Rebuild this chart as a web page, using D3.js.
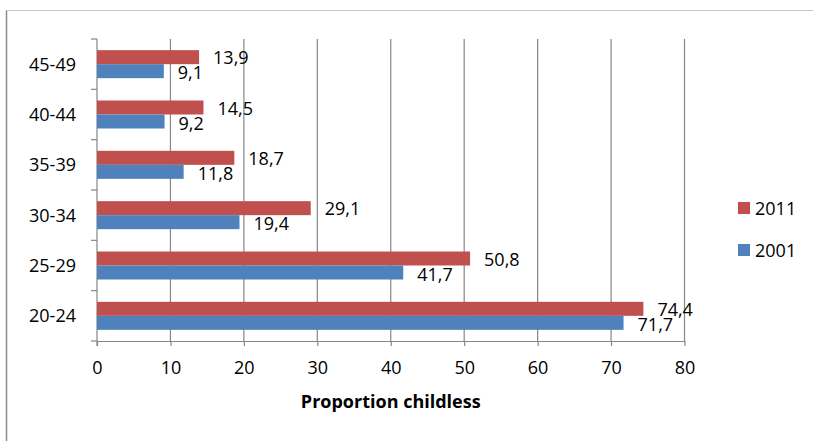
<!DOCTYPE html>
<html>
<head>
<meta charset="utf-8">
<script src="https://cdn.jsdelivr.net/npm/d3@7"></script>
<style>
  html, body { margin: 0; padding: 0; background: #fff; }
  svg { display: block; }
  text { font-family: "Open Sans", "Liberation Sans", sans-serif; fill: #000; }
</style>
</head>
<body>
<svg id="chart" width="813" height="441"></svg>
<script>
// Age groups, bottom to top
const ageGroups = ["20-24", "25-29", "30-34", "35-39", "40-44", "45-49"];
// Proportion childless (%) by year
const values2011 = [74.4, 50.8, 29.1, 18.7, 14.5, 13.9];
const values2001 = [71.7, 41.7, 19.4, 11.8, 9.2, 9.1];
const seriesNames = ["2011", "2001"];
const seriesColors = ["#C0504D", "#4F81BD"];
const xTicks = [0, 10, 20, 30, 40, 50, 60, 70, 80];
const xTitle = "Proportion childless";

const fmt = v => String(v).replace(".", ",");

const svg = d3.select("#chart");

// Outer chart frame (partially visible)
svg.append("line").attr("x1", 6.5).attr("x2", 6.5).attr("y1", 10).attr("y2", 441)
  .attr("stroke", "#8a8a8a").attr("stroke-width", 1.5);
svg.append("line").attr("x1", 6).attr("x2", 813).attr("y1", 10.5).attr("y2", 10.5)
  .attr("stroke", "#c4c4c4").attr("stroke-width", 1);

const plot = { left: 97, right: 684.5, top: 39, bottom: 341 };

const x = d3.scaleLinear().domain([0, 80]).range([plot.left, plot.right]);
// Bands go bottom-to-top: first category at the bottom
const y = d3.scaleBand().domain(ageGroups).range([plot.bottom, plot.top]).paddingInner(0).paddingOuter(0);
const barH = 14;

// Vertical gridlines
svg.append("g").selectAll("line").data(xTicks.filter(d => d > 0)).join("line")
  .attr("x1", d => x(d)).attr("x2", d => x(d))
  .attr("y1", plot.top).attr("y2", plot.bottom)
  .attr("stroke", "#868686").attr("stroke-width", 1.2);

// X axis
const xAxis = svg.append("g").attr("transform", `translate(0,${plot.bottom})`)
  .call(d3.axisBottom(x).tickValues(xTicks).tickSize(5).tickPadding(8).tickSizeOuter(0));
xAxis.select(".domain").attr("stroke", "#868686").attr("stroke-width", 1.2);
xAxis.selectAll(".tick line").attr("stroke", "#868686").attr("stroke-width", 1.2);
xAxis.selectAll(".tick text").attr("font-size", 18).attr("font-family", "Open Sans")
  .attr("dy", null).attr("y", 33);

// Y axis: ticks at band boundaries, labels centred in bands
const yAxisG = svg.append("g");
yAxisG.append("line").attr("x1", plot.left).attr("x2", plot.left)
  .attr("y1", plot.top).attr("y2", plot.bottom + 5)
  .attr("stroke", "#868686").attr("stroke-width", 1.2);
const boundaries = ageGroups.map(g => y(g)).concat([plot.bottom]);
yAxisG.selectAll("line.tk").data(boundaries).join("line").attr("class", "tk")
  .attr("x1", plot.left - 6).attr("x2", plot.left)
  .attr("y1", d => d).attr("y2", d => d)
  .attr("stroke", "#868686").attr("stroke-width", 1.2);
yAxisG.selectAll("text").data(ageGroups).join("text")
  .attr("x", 76).attr("y", d => y(d) + y.bandwidth() / 2 + 6.5)
  .attr("text-anchor", "end").attr("font-size", 18)
  .text(d => d);

// Bars
const series = [values2011, values2001];
series.forEach((vals, si) => {
  const g = svg.append("g");
  const yOff = d => y(d) + (y.bandwidth() - 2 * barH) / 2 + si * barH;
  g.selectAll("rect").data(ageGroups).join("rect")
    .attr("x", x(0))
    .attr("y", d => yOff(d))
    .attr("width", (d, i) => x(vals[i]) - x(0))
    .attr("height", barH)
    .attr("fill", seriesColors[si]);
  g.selectAll("text").data(ageGroups).join("text")
    .attr("x", (d, i) => x(vals[i]) + 14)
    .attr("y", d => yOff(d) + barH / 2 + 7 + si * 1)
    .attr("font-size", 18)
    .text((d, i) => fmt(vals[i]));
});

// Axis title
svg.append("text").attr("x", (plot.left + plot.right) / 2).attr("y", 408)
  .attr("text-anchor", "middle").attr("font-size", 18).attr("font-weight", "bold")
  .text(xTitle);

// Legend
const legend = svg.append("g");
seriesNames.forEach((name, i) => {
  const ly = 202 + i * 42;
  legend.append("rect").attr("x", 738).attr("y", ly).attr("width", 12).attr("height", 12)
    .attr("fill", seriesColors[i]);
  legend.append("text").attr("x", 755).attr("y", ly + 13).attr("font-size", 18).text(name);
});
</script>
</body>
</html>
